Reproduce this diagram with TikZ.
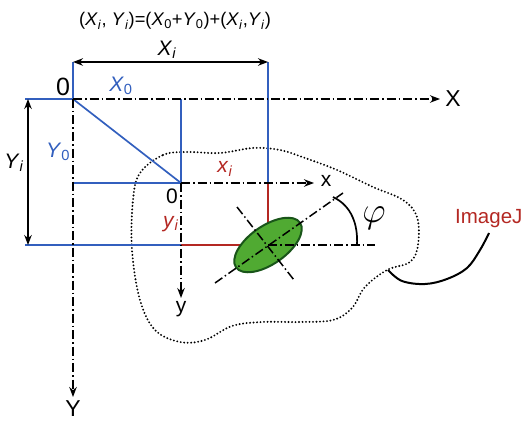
\documentclass[tikz,border=0pt]{standalone}
\usepackage{fontspec}
\setmainfont{Liberation Sans}
\usetikzlibrary{arrows.meta,shapes.geometric}
\definecolor{lblue}{RGB}{50,95,190}
\definecolor{lred}{RGB}{180,40,35}
\definecolor{egreen}{RGB}{80,170,50}
\definecolor{dgreen}{RGB}{25,85,25}
\newcommand{\vv}[2]{\textit{#1}\textsubscript{#2}}
\newcommand{\vi}[1]{\textit{#1}\textsubscript{\textit{i}}}
\tikzset{
  axisline/.style={line width=1.5pt, dash pattern=on 9pt off 3pt on 1.5pt off 3pt},
  axisarrow/.style={axisline, -{Stealth[length=10pt,width=7.5pt]}},
  blueline/.style={lblue, line width=1.7pt},
  redline/.style={lred, line width=1.9pt},
  dimarrow/.style={line width=1.5pt, {Stealth[length=10pt,width=7.5pt]}-{Stealth[length=10pt,width=7.5pt]}},
  lab/.style={inner sep=0pt, font=\fontsize{21}{23}\selectfont},
  biglab/.style={inner sep=0pt, font=\fontsize{23}{25}\selectfont},
  blob/.style={line width=2.1pt, dash pattern=on 0pt off 3.5pt, line cap=round},
}
\begin{document}
\begin{tikzpicture}[x=1pt,y=-1pt]
\useasboundingbox (0,0) rectangle (526,422);
% coordinates
\coordinate (O) at (73,99);
\coordinate (Xend) at (440,99);
\coordinate (Yend) at (73,397);
\coordinate (o) at (181,183);
\coordinate (xend) at (314,183);
\coordinate (yend) at (181,298);
\coordinate (C) at (268,245);
\coordinate (Ctop) at (268,183);
\coordinate (Cleft) at (181,245);
\coordinate (tl) at (73,62);
\coordinate (tr) at (268,62);
\coordinate (bl) at (25,245);
\coordinate (ml) at (25,99);
\coordinate (ybl) at (73,183);
\coordinate (ox) at (181,99);
\coordinate (Ya) at (28,99);
\coordinate (Yb) at (28,245);
\coordinate (hend) at (375,245);
\coordinate (ma1) at (215,283);
\coordinate (ma2) at (343,193);
\coordinate (mi1) at (237,207);
\coordinate (mi2) at (294,280);
\coordinate (arcA) at (333,197);
\coordinate (arcB) at (357,245);

% dotted blob
\draw[blob] plot[smooth cycle, tension=0.6] coordinates {
 (140,173) (163,155) (187,152) (220,153) (253,148) (280,150) (305,158)
 (337,170) (373,187) (403,200) (417,217) (418,245) (410,262) (387,270)
 (365,287) (352,308) (333,320) (300,322) (262,322) (232,326) (205,340)
 (180,342) (155,330) (140,300) (132,250) (133,200)};

% wavy connector
\coordinate (w0) at (388,270);
\coordinate (w1) at (489,233);
\draw[line width=2pt] plot[smooth, tension=0.6] coordinates {
 (w0) (402,281) (425,284) (447,279) (467,268) (480,250) (w1)};

% blue lines
\draw[blueline] (ml) -- (O) -- (tl);
\draw[blueline] (tr) -- (Ctop);
\draw[blueline] (O) -- (o);
\draw[blueline] (ox) -- (o) -- (ybl);
\draw[blueline] (bl) -- (Cleft);
% red lines
\draw[redline] (Cleft) -- (C) -- (Ctop);

% axes
\draw[axisarrow] (O) -- (Xend);
\draw[axisarrow] (O) -- (Yend);
\draw[axisarrow] (o) -- (xend);
\draw[axisarrow] (o) -- (yend);

% dimension arrows
\draw[dimarrow] (tl) -- (tr);
\draw[dimarrow] (Ya) -- (Yb);

% ellipse
\node[ellipse, draw=dgreen, fill=egreen, line width=2pt, minimum width=78pt, minimum height=38pt, inner sep=0pt, rotate=35] (ell) at (C) {};
\draw[axisline] (ma1) -- (ma2);
\draw[axisline] (mi1) -- (mi2);
\draw[axisline] (C) -- (hend);
\draw[line width=1.7pt] (arcA) .. controls (352,206) and (358,225) .. (arcB);

% labels
\node[inner sep=0pt, font=\fontsize{18.3}{20}\selectfont] (formula) at (175,21) {(\vi{X}, \vi{Y})=(\vv{X}{0}+\vv{Y}{0})+(\vi{X},\vi{Y})};
\node[lab] (lXi) at (167,50) {\vi{X}};
\node[inner sep=0pt, font=\fontsize{25}{27}\selectfont] (lO) at (63,87) {0};
\node[lab, text=lblue] (lX0) at (121,86) {\vv{X}{0}};
\node[lab, text=lblue] (lY0) at (58,152) {\vv{Y}{0}};
\node[lab] (lYi) at (14,163) {\vi{Y}};
\node[lab] (lo) at (172,196) {0};
\node[lab, text=lred] (lyi) at (171,224) {\vi{y}};
\node[lab, text=lred] (lxi) at (225,169) {\vi{x}};
\node[lab] (lx) at (326,181) {x};
\node[lab] (ly) at (181,309) {y};
\node[biglab] (lX) at (453,99) {X};
\node[biglab] (lY) at (73,409) {Y};
\node[inner sep=0pt, font=\fontsize{17.28}{20}\selectfont, scale=2.1, transform shape] (lphi) at (374,218) {$\varphi$};
\node[inner sep=0pt, text=lred, font=\fontsize{20.5}{23}\selectfont, anchor=west] (imj) at (455,219) {ImageJ};
\end{tikzpicture}
\end{document}
